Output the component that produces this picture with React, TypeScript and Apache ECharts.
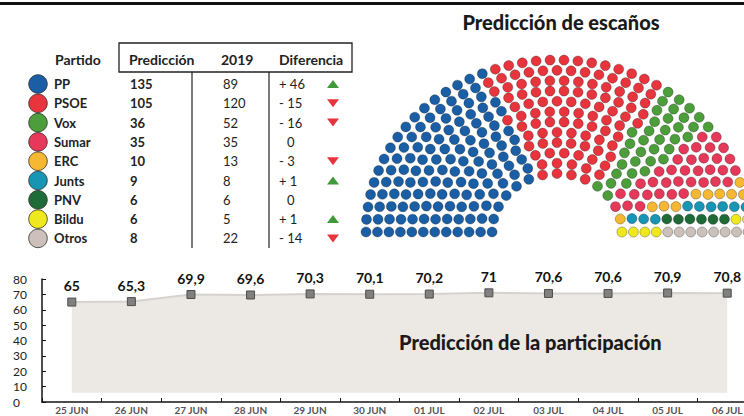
import React, { useEffect, useRef } from "react";
import * as echarts from "echarts";

// ---------- DATA ----------
const parties = ["PP", "PSOE", "Vox", "Sumar", "ERC", "Junts", "PNV", "Bildu", "Otros"];
const prediction = [135, 105, 36, 35, 10, 9, 6, 6, 8];
const seats2019 = [89, 120, 52, 35, 13, 8, 6, 5, 22];
const partyColors = ["#1a5fa6", "#e8343c", "#4b9e3a", "#e6395a", "#f6b733", "#1795b5", "#1e6b38", "#f0e81e", "#cbc1ba"];

const days = ["25 JUN", "26 JUN", "27 JUN", "28 JUN", "29 JUN", "30 JUN", "01 JUL", "02 JUL", "03 JUL", "04 JUL", "05 JUL", "06 JUL"];
const turnout = [65, 65.3, 69.9, 69.6, 70.3, 70.1, 70.2, 71, 70.6, 70.6, 70.9, 70.8];
const yTicks = { min: 0, max: 80, interval: 10 };

const FONT = "Lato, 'Noto Sans', sans-serif";

// ---------- HEMICYCLE LAYOUT (derived from seat counts) ----------
function buildHemicycle(counts: number[]) {
  const ROWS = 12;
  const R0 = 0.34;
  const total = counts.reduce((a, b) => a + b, 0);
  const radii = Array.from({ length: ROWS }, (_, i) => R0 + (i * (1 - R0)) / (ROWS - 1));
  const sumR = radii.reduce((a, b) => a + b, 0);
  const raw = radii.map((r) => (total * r) / sumR);
  const per = raw.map(Math.floor);
  const left = total - per.reduce((a, b) => a + b, 0);
  const order = raw.map((v, i) => ({ i, f: v - Math.floor(v) })).sort((a, b) => b.f - a.f);
  for (let k = 0; k < left; k++) per[order[k].i] += 1;
  const pts: { r: number; a: number }[] = [];
  radii.forEach((r, i) => {
    const n = per[i];
    for (let j = 0; j < n; j++) pts.push({ r, a: Math.PI * (1 - j / (n - 1)) });
  });
  pts.sort((p, q) => q.a - p.a || p.r - q.r);
  const byParty: number[][][] = counts.map(() => []);
  let idx = 0;
  counts.forEach((c, pi) => {
    for (let k = 0; k < c; k++) {
      const p = pts[idx++];
      byParty[pi].push([p.r * Math.cos(p.a), p.r * Math.sin(p.a)]);
    }
  });
  return byParty;
}

export default function App() {
  const topRef = useRef<HTMLDivElement>(null);
  const botRef = useRef<HTMLDivElement>(null);

  useEffect(() => {
    if (!topRef.current || !botRef.current) return;

    // ---------- BOTTOM LAYER: turnout chart ----------
    const bot = echarts.init(botRef.current, undefined, { renderer: "svg" });
    bot.setOption({
      animation: false,
      backgroundColor: "#ffffff",
      grid: [{ left: 42, top: 279, width: 715, height: 123, outerBoundsMode: "none", containLabel: false }],
      xAxis: [{
        gridIndex: 0,
        type: "category",
        data: days,
        axisLine: { show: true, onZero: false, lineStyle: { color: "#141414", width: 1.5 } },
        axisTick: { show: true, inside: true, length: 4 },
        axisLabel: { fontSize: 10, fontWeight: "bold", margin: 3, fontFamily: FONT },
      }],
      yAxis: [{
        gridIndex: 0,
        type: "value",
        min: yTicks.min,
        max: yTicks.max,
        interval: yTicks.interval,
        axisLine: { show: true, onZero: false, lineStyle: { color: "#141414", width: 1.5 } },
        axisTick: { show: true, inside: true, length: 4, lineStyle: { color: "#141414" } },
        splitLine: { show: false },
        axisLabel: { show: true, showMaxLabel: true, showMinLabel: true, align: "left", margin: 29, fontSize: 12, color: "#222", fontFamily: FONT },
      }],
      series: [{
        type: "line",
        xAxisIndex: 0,
        yAxisIndex: 0,
        data: turnout,
        symbol: "rect",
        symbolSize: 8,
        lineStyle: { color: "#d6d2cd", width: 2 },
        itemStyle: { color: "#808080", borderColor: "#4d4d4d", borderWidth: 1 },
        areaStyle: { color: "#ece9e4", opacity: 1, origin: 6 },
        label: {
          show: true,
          position: "top",
          fontSize: 14,
          fontWeight: "bold",
          color: "#111",
          fontFamily: FONT,
          formatter: (p: any) => String(p.value).replace(".", ","),
        },
      }],
    });

    // ---------- TOP LAYER: table, hemicycle, titles (transparent) ----------
    const top = echarts.init(topRef.current, undefined, { renderer: "svg" });
    const seatsByParty = buildHemicycle(prediction);
    const rowY = (i: number) => 84 + 19.3 * i;
    const graphics: any[] = [];
    graphics.push({ type: "rect", shape: { x: 0, y: 2, width: 744, height: 3 }, style: { fill: "#111" } });
    graphics.push({
      type: "text", x: 561, y: 22,
      style: { text: "Predicción de escaños", font: `900 20px ${FONT}`, fill: "#1a1a1a", align: "center", verticalAlign: "middle" },
    });
    graphics.push({
      type: "text", x: 399, y: 342,
      style: { text: "Predicción de la participación", font: `900 20px ${FONT}`, fill: "#1a1a1a", align: "left", verticalAlign: "middle" },
    });
    graphics.push({ type: "rect", shape: { x: 119, y: 43, width: 233, height: 29 }, style: { fill: "none", stroke: "#222", lineWidth: 1.3 } });
    graphics.push({ type: "line", shape: { x1: 192, y1: 72, x2: 192, y2: 248 }, style: { stroke: "#222", lineWidth: 1.2 } });
    graphics.push({ type: "line", shape: { x1: 269, y1: 72, x2: 269, y2: 248 }, style: { stroke: "#222", lineWidth: 1.2 } });
    const header = [
      { t: "Partido", x: 55 },
      { t: "Predicción", x: 129 },
      { t: "2019", x: 221 },
      { t: "Diferencia", x: 279 },
    ];
    header.forEach((h) =>
      graphics.push({
        type: "text", x: h.x, y: 59,
        style: { text: h.t, font: `bold 14px ${FONT}`, fill: "#222", align: "left", verticalAlign: "middle" },
      })
    );
    parties.forEach((p, i) => {
      const y = rowY(i);
      graphics.push({ type: "circle", shape: { cx: 38, cy: y, r: 9.3 }, style: { fill: partyColors[i], stroke: "rgba(40,40,40,0.75)", lineWidth: 1 } });
      graphics.push({ type: "text", x: 54, y, style: { text: p, font: `bold 13px ${FONT}`, fill: "#222", verticalAlign: "middle" } });
      graphics.push({ type: "text", x: 130, y, style: { text: String(prediction[i]), font: `bold 13px ${FONT}`, fill: "#222", verticalAlign: "middle" } });
      graphics.push({ type: "text", x: 223, y, style: { text: String(seats2019[i]), font: `13px ${FONT}`, fill: "#222", verticalAlign: "middle" } });
      const d = prediction[i] - seats2019[i];
      const dt = d > 0 ? `+ ${d}` : d < 0 ? `- ${-d}` : "0";
      graphics.push({ type: "text", x: d === 0 ? 287 : 279, y, style: { text: dt, font: `13px ${FONT}`, fill: "#222", verticalAlign: "middle" } });
      if (d > 0) {
        graphics.push({ type: "polygon", shape: { points: [[327, y + 4], [339, y + 4], [333, y - 4]] }, style: { fill: "#3f9a3a" } });
      } else if (d < 0) {
        graphics.push({ type: "polygon", shape: { points: [[327, y - 4], [339, y - 4], [333, y + 4]] }, style: { fill: "#e8343c" } });
      }
    });
    top.setOption({
      animation: false,
      backgroundColor: "transparent",
      grid: [{ left: 366, top: 60, width: 382, height: 172, outerBoundsMode: "none", containLabel: false }],
      xAxis: [{ type: "value", min: -1, max: 1, show: false }],
      yAxis: [{ type: "value", min: 0, max: 1, show: false }],
      series: parties.map((p, i) => ({
        type: "scatter",
        name: p,
        data: seatsByParty[i],
        symbolSize: 10,
        clip: false,
        silent: true,
        itemStyle: { color: partyColors[i], borderColor: "rgba(0,0,0,0.28)", borderWidth: 1, opacity: 1 },
      })),
      graphic: graphics,
    });

    return () => {
      top.dispose();
      bot.dispose();
    };
  }, []);

  return (
    <>
      <div ref={botRef} style={{ position: "fixed", left: 0, top: 0, width: 744, height: 416 }} />
      <div ref={topRef} style={{ position: "fixed", left: 0, top: 0, width: 744, height: 416, pointerEvents: "none" }} />
    </>
  );
}
